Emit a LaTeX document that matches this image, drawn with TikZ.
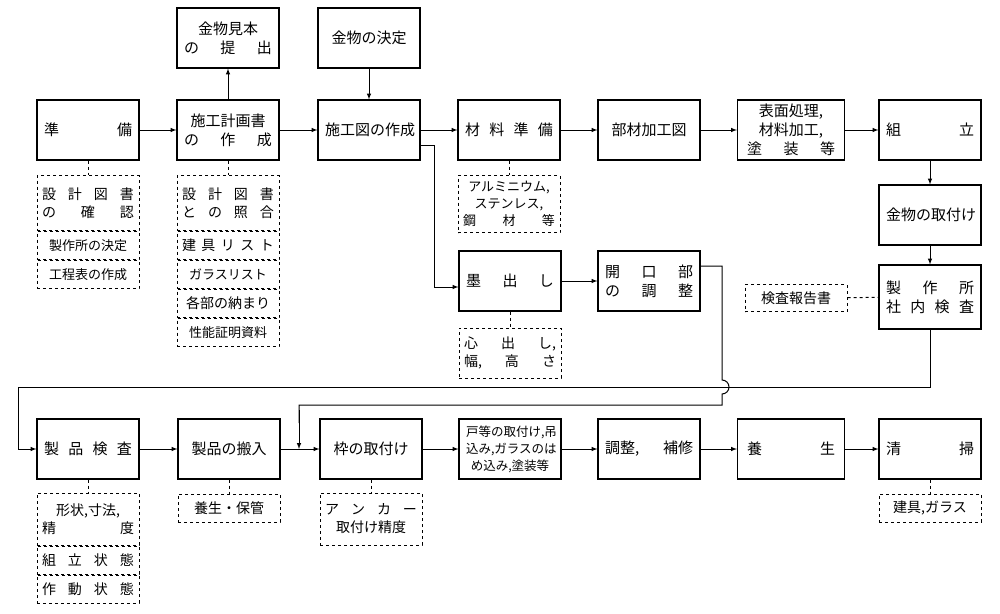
\documentclass[tikz,border=0pt]{standalone}
\usepackage{fontspec}
\setmainfont{Noto Sans CJK JP}
\usetikzlibrary{positioning}
\tikzset{
  stepbox/.style={draw,line width=1.1pt,minimum width=102pt,minimum height=60pt,text width=88pt,align=center,inner sep=2pt,font=\fontsize{15}{19}\selectfont},
  notebox/.style={draw,dashed,line width=1pt,minimum width=102pt,text width=92pt,align=center,inner sep=2pt,font=\fontsize{14}{18}\selectfont},
  flow/.style={line width=1pt,-latex},
  link/.style={line width=1pt},
  tie/.style={line width=1pt,dashed},
}
\begin{document}
\begin{tikzpicture}[x=1pt,y=-1pt]
\useasboundingbox (0,0) rectangle (1000,613);
%% first row
\node (junbi) at (88,130) [stepbox] {準\hfill 備};
\node (keikaku) at (228,130) [stepbox] {施工計画書\\の\hfill 作\hfill 成};
\node (sekozu) at (369,130) [stepbox] {施工図の作成};
\node (zairyo) at (509,130) [stepbox] {材\hfill 料\hfill 準\hfill 備};
\node (kakozu) at (649,130) [stepbox] {部材加工図};
\node (hyomen) at (791,130) [stepbox,minimum width=107pt] {表面処理,\\材料加工,\\塗\hfill 装\hfill 等};
\node (kumitate) at (930,130) [stepbox] {組\hfill 立};
\node (mihon) at (228,38) [stepbox] {金物見本\\の\hfill 提\hfill 出};
\node (kettei) at (369,38) [stepbox] {金物の決定};
\node (toritsuke) at (930,215) [stepbox] {金物の取付け};
\node (kensa) at (930,297) [stepbox,minimum height=64pt] {製\hfill 作\hfill 所\\社\hfill 内\hfill 検\hfill 査};
\node (hokoku) at (796,298) [notebox,minimum height=27pt,text width=90pt] {検査報告書};
%% second row
\node (sumidashi) at (510,281) [stepbox] {墨\hfill 出\hfill し};
\node (kaiko) at (649,281) [stepbox] {開\hfill 口\hfill 部\\の\hfill 調\hfill 整};
%% third row
\node (seihin) at (88,449) [stepbox] {製\hfill 品\hfill 検\hfill 査};
\node (hannyu) at (229,449) [stepbox] {製品の搬入};
\node (waku) at (371,449) [stepbox] {枠の取付け};
\node (todo) at (510,449) [stepbox,font=\fontsize{12.5}{17}\selectfont] {戸等の取付け,吊\\込み,ガラスのは\\め込み,塗装等};
\node (chosei) at (649,449) [stepbox] {調整,\hfill 補修};
\node (yojo) at (791,449) [stepbox,minimum width=107pt] {養\hfill 生};
\node (seiso) at (930,449) [stepbox] {清\hfill 掃};
%% notes
\node (n1a) at (88,203) [notebox,minimum height=55pt] {設\hfill 計\hfill 図\hfill 書\\の\hfill 確\hfill 認};
\node (n1b) [notebox,minimum height=28pt,below=0pt of n1a,font=\fontsize{13}{16}\selectfont] {製作所の決定};
\node (n1c) [notebox,minimum height=28pt,below=0pt of n1b,font=\fontsize{13}{16}\selectfont] {工程表の作成};
\node (n2a) at (228,203) [notebox,minimum height=55pt] {設\hfill 計\hfill 図\hfill 書\\と\hfill の\hfill 照\hfill 合};
\node (n2b) [notebox,minimum height=28pt,below=0pt of n2a] {建\hfill 具\hfill リ\hfill ス\hfill ト};
\node (n2c) [notebox,minimum height=28pt,below=0pt of n2b,font=\fontsize{13}{16}\selectfont] {ガラスリスト};
\node (n2d) [notebox,minimum height=28pt,below=0pt of n2c] {各部の納まり};
\node (n2e) [notebox,minimum height=28pt,below=0pt of n2d,font=\fontsize{13}{16}\selectfont] {性能証明資料};
\node (n3) at (509,204) [notebox,minimum height=57pt,font=\fontsize{13}{17}\selectfont] {アルミニウム,\\ステンレス,\\鋼\hfill 材\hfill 等};
\node (n4) at (510,353) [notebox,minimum height=50pt] {心\hfill 出\hfill し,\\幅,\hfill 高\hfill さ};
\node (n5a) at (88,519) [notebox,minimum height=52pt] {形状,寸法,\\精\hfill 度};
\node (n5b) [notebox,minimum height=28pt,below=0pt of n5a] {組\hfill 立\hfill 状\hfill 態};
\node (n5c) [notebox,minimum height=28pt,below=0pt of n5b] {作\hfill 動\hfill 状\hfill 態};
\node (n6) at (229,508) [notebox,minimum height=28pt] {養生・保管};
\node (n7) at (371,519) [notebox,minimum height=52pt] {ア\hfill ン\hfill カ\hfill ー\\取付け精度};
\node (n8) at (930,508) [notebox,minimum height=28pt] {建具,ガラス};
%% flow
\draw [flow] (junbi) -- (keikaku);
\draw [flow] (keikaku) -- (sekozu);
\draw [flow] (sekozu) -- (zairyo);
\draw [flow] (zairyo) -- (kakozu);
\draw [flow] (kakozu) -- (hyomen);
\draw [flow] (hyomen) -- (kumitate);
\draw [flow] (keikaku) -- (mihon);
\draw [flow] (kettei) -- (sekozu);
\draw [flow] (kumitate) -- (toritsuke);
\draw [flow] (toritsuke) -- (kensa);
\draw [flow] (sekozu.east |- 0,145) -- (434,145) |- (sumidashi.west |- 0,287);
\draw [flow] (sumidashi) -- (kaiko);
\draw [flow] (kensa.south) |- (18,387) |- (seihin.west);
\draw [link] (kaiko.east |- 0,266) -| (722,380) arc[start angle=-90,end angle=90,radius=7] -- (722,405) -| (299,423);
\draw [flow] (299,410) -- (299,449);
\draw [flow] (seihin) -- (hannyu);
\draw [flow] (hannyu) -- (waku);
\draw [flow] (waku) -- (todo);
\draw [flow] (todo) -- (chosei);
\draw [flow] (chosei) -- (yojo);
\draw [flow] (yojo) -- (seiso);
%% dashed ties
\draw [tie] (junbi) -- (n1a);
\draw [tie] (keikaku) -- (n2a);
\draw [tie] (zairyo) -- (n3);
\draw [tie] (sumidashi) -- (n4);
\draw [tie] (seihin) -- (n5a);
\draw [tie] (hannyu) -- (n6);
\draw [tie] (waku) -- (n7);
\draw [tie] (seiso) -- (n8);
\draw [tie] (hokoku) -- (kensa);
\end{tikzpicture}
\end{document}
